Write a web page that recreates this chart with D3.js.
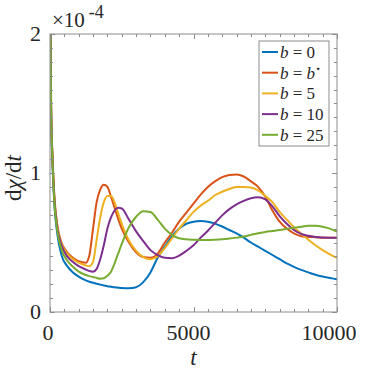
<!DOCTYPE html>
<html>
<head>
<meta charset="utf-8">
<script src="https://cdn.jsdelivr.net/npm/d3@7"></script>
<style>
  body { margin: 0; background: #fff; }
  svg text, svg tspan { font-family: "Liberation Serif", "Times New Roman", serif !important; }
</style>
</head>
<body>
<svg id="chart" width="374" height="374"></svg>
<script>
// time grid shared by all curves
const times = [0, 40, 80, 150, 250, 400, 600, 800, 1000, 1250, 1375, 1500, 1625, 1750, 1875,
  2000, 2125, 2250, 2375, 2500, 2750, 3000, 3250, 3500, 3750, 4000, 4250, 4500, 4750, 5000,
  5250, 5500, 5750, 6000, 6250, 6500, 6750, 7000, 7250, 7500, 7750, 8000, 8250, 8500, 8750,
  9000, 9250, 9500, 9750, 10000];

// dchi/dt in units of 1e-4
const b0 = [2.4, 1.4, 1.1, 0.78, 0.57, 0.41, 0.33, 0.285, 0.255, 0.228, 0.218, 0.21, 0.203, 0.197, 0.191,
  0.186, 0.182, 0.178, 0.175, 0.172, 0.17, 0.178, 0.215, 0.285, 0.39, 0.47, 0.545, 0.6, 0.635, 0.65,
  0.655, 0.65, 0.636, 0.615, 0.59, 0.565, 0.535, 0.5, 0.47, 0.44, 0.41, 0.38, 0.35, 0.325, 0.303,
  0.285, 0.268, 0.255, 0.245, 0.235];
const bStar = [2.4, 1.45, 1.15, 0.84, 0.63, 0.5, 0.43, 0.39, 0.365, 0.355, 0.41, 0.6, 0.79, 0.88, 0.915,
  0.9, 0.83, 0.75, 0.67, 0.6, 0.5, 0.43, 0.395, 0.39, 0.42, 0.5, 0.57, 0.65, 0.715, 0.78,
  0.845, 0.9, 0.94, 0.97, 0.985, 0.99, 0.975, 0.94, 0.9, 0.83, 0.73, 0.65, 0.6, 0.565, 0.545,
  0.54, 0.538, 0.535, 0.535, 0.535];
const b5 = [2.4, 1.45, 1.15, 0.83, 0.62, 0.49, 0.42, 0.38, 0.355, 0.335, 0.33, 0.36, 0.52, 0.68, 0.79,
  0.835, 0.835, 0.79, 0.71, 0.635, 0.515, 0.44, 0.395, 0.38, 0.4, 0.46, 0.53, 0.6, 0.66, 0.72,
  0.765, 0.8, 0.84, 0.865, 0.885, 0.9, 0.9, 0.895, 0.875, 0.835, 0.79, 0.72, 0.665, 0.61, 0.565,
  0.52, 0.48, 0.445, 0.415, 0.39];
const b10 = [2.4, 1.45, 1.14, 0.82, 0.61, 0.48, 0.4, 0.36, 0.33, 0.305, 0.295, 0.29, 0.31, 0.38, 0.48,
  0.6, 0.68, 0.73, 0.75, 0.745, 0.665, 0.58, 0.51, 0.445, 0.41, 0.39, 0.387, 0.405, 0.44, 0.48,
  0.535, 0.585, 0.64, 0.695, 0.74, 0.775, 0.8, 0.818, 0.825, 0.81, 0.76, 0.69, 0.635, 0.59, 0.562,
  0.548, 0.54, 0.536, 0.535, 0.535];
const b25 = [2.4, 1.45, 1.13, 0.8, 0.59, 0.45, 0.37, 0.325, 0.29, 0.266, 0.258, 0.252, 0.245, 0.24, 0.243,
  0.26, 0.29, 0.35, 0.42, 0.49, 0.61, 0.685, 0.725, 0.72, 0.665, 0.6, 0.555, 0.53, 0.523, 0.52,
  0.518, 0.518, 0.52, 0.523, 0.528, 0.535, 0.543, 0.555, 0.567, 0.576, 0.583, 0.59, 0.598, 0.606, 0.614,
  0.62, 0.621, 0.614, 0.6, 0.578];

const seriesNames = ["0", "b*", "5", "10", "25"];
const seriesValues = [b0, bStar, b5, b10, b25];
const colors = ["#0072BD", "#D95319", "#EDB120", "#7E2F8E", "#77AC30"];

const xTicks = [0, 5000, 10000];
const yTicks = [0, 1, 2];

const FONT = "Liberation Serif";
const textColor = "#262626";

const margin = { left: 50, top: 34, right: 37, bottom: 62 };
const width = 374 - margin.left - margin.right;
const height = 374 - margin.top - margin.bottom;

const svg = d3.select("#chart").attr("font-family", FONT);
const g = svg.append("g")
  .attr("transform", "translate(" + margin.left + "," + margin.top + ")");

const x = d3.scaleLinear().domain([0, 10000]).range([0, width]);
const y = d3.scaleLinear().domain([0, 2]).range([height, 0]);

g.append("clipPath").attr("id", "clip")
  .append("rect").attr("width", width).attr("height", height);

// curves
const line = d3.line()
  .x((d, i) => x(times[i]))
  .y(d => y(d))
  .curve(d3.curveMonotoneX);

g.append("g").attr("clip-path", "url(#clip)")
  .selectAll("path")
  .data(seriesValues)
  .enter()
  .append("path")
  .attr("d", d => line(d))
  .attr("fill", "none")
  .attr("stroke", (d, i) => colors[i])
  .attr("stroke-width", 2);

// box + inward ticks on all sides
const axisColor = "#8c8c8c";
g.append("rect")
  .attr("width", width).attr("height", height)
  .attr("fill", "none").attr("stroke", axisColor).attr("stroke-width", 1);

const xMinor = d3.range(500, 10000, 500);
const yMinor = d3.range(0.1, 2, 0.1);
const ticks = g.append("g").attr("stroke", axisColor).attr("stroke-width", 1);

xMinor.concat(xTicks).forEach(t => {
  const len = xTicks.includes(t) ? 5 : 3;
  const xx = Math.round(x(t)) + 0.5;
  ticks.append("line").attr("x1", xx).attr("x2", xx).attr("y1", height).attr("y2", height - len);
  ticks.append("line").attr("x1", xx).attr("x2", xx).attr("y1", 0).attr("y2", len);
});
yMinor.concat(yTicks).forEach(v => {
  const len = yTicks.includes(v) ? 5 : 3;
  const yy = Math.round(y(v)) + 0.5;
  ticks.append("line").attr("y1", yy).attr("y2", yy).attr("x1", 0).attr("x2", len);
  ticks.append("line").attr("y1", yy).attr("y2", yy).attr("x1", width).attr("x2", width - len);
});

// tick labels
g.selectAll(".xlab")
  .data(xTicks)
  .enter()
  .append("text")
  .attr("class", "xlab")
  .attr("x", d => x(d) - 2 - 6 * d / 10000)
  .attr("y", height + 28)
  .attr("text-anchor", "middle")
  .attr("fill", textColor)
  .attr("font-family", FONT)
  .style("font-size", "22px")
  .text(d => d);

g.selectAll(".ylab")
  .data(yTicks)
  .enter()
  .append("text")
  .attr("class", "ylab")
  .attr("x", -9)
  .attr("y", d => y(d) + 7)
  .attr("text-anchor", "end")
  .attr("fill", textColor)
  .attr("font-family", FONT)
  .style("font-size", "22px")
  .text(d => d);

// exponent
const expo = svg.append("text").attr("x", 52).attr("y", 27)
  .attr("fill", textColor)
  .attr("font-family", FONT)
  .style("font-size", "21px");
expo.append("tspan").text("×10");
expo.append("tspan").attr("dx", 4).attr("dy", -9).style("font-size", "18px").text("-4");

// axis titles
svg.append("text")
  .attr("x", margin.left + x(5000))
  .attr("y", 365)
  .attr("text-anchor", "middle")
  .attr("fill", textColor)
  .attr("font-family", FONT)
  .style("font-size", "23px")
  .style("font-style", "italic")
  .text("t");

const yt = svg.append("text")
  .attr("transform", "translate(21,178) rotate(-90)")
  .attr("text-anchor", "middle")
  .attr("fill", textColor)
  .attr("font-family", FONT)
  .style("font-size", "23px");
yt.append("tspan").text("d");
yt.append("tspan").style("font-style", "italic").text("χ");
yt.append("tspan").text("/d");
yt.append("tspan").style("font-style", "italic").text("t");

// legend
const legend = svg.append("g").attr("transform", "translate(259,41)");
legend.append("rect")
  .attr("width", 70).attr("height", 105)
  .attr("fill", "#fff").attr("stroke", axisColor).attr("stroke-width", 1);

const item = legend.selectAll(".item")
  .data(seriesNames)
  .enter()
  .append("g")
  .attr("class", "item")
  .attr("transform", (d, i) => "translate(0," + (11 + i * 20.7) + ")");

item.append("line")
  .attr("x1", 3).attr("x2", 19)
  .attr("stroke", (d, i) => colors[i])
  .attr("stroke-width", 2);

const lt = item.append("text")
  .attr("x", 21)
  .attr("y", 6)
  .attr("fill", textColor)
  .attr("font-family", FONT)
  .style("font-size", "17px");
lt.append("tspan").style("font-style", "italic").text("b");
lt.append("tspan").text(" = ");
lt.each(function (d) {
  const t = d3.select(this);
  if (d === "b*") {
    t.append("tspan").style("font-style", "italic").text("b");
    t.append("tspan").attr("dy", -7).style("font-size", "10px").text("⋆");
  } else {
    t.append("tspan").text(d);
  }
});
</script>
</body>
</html>
